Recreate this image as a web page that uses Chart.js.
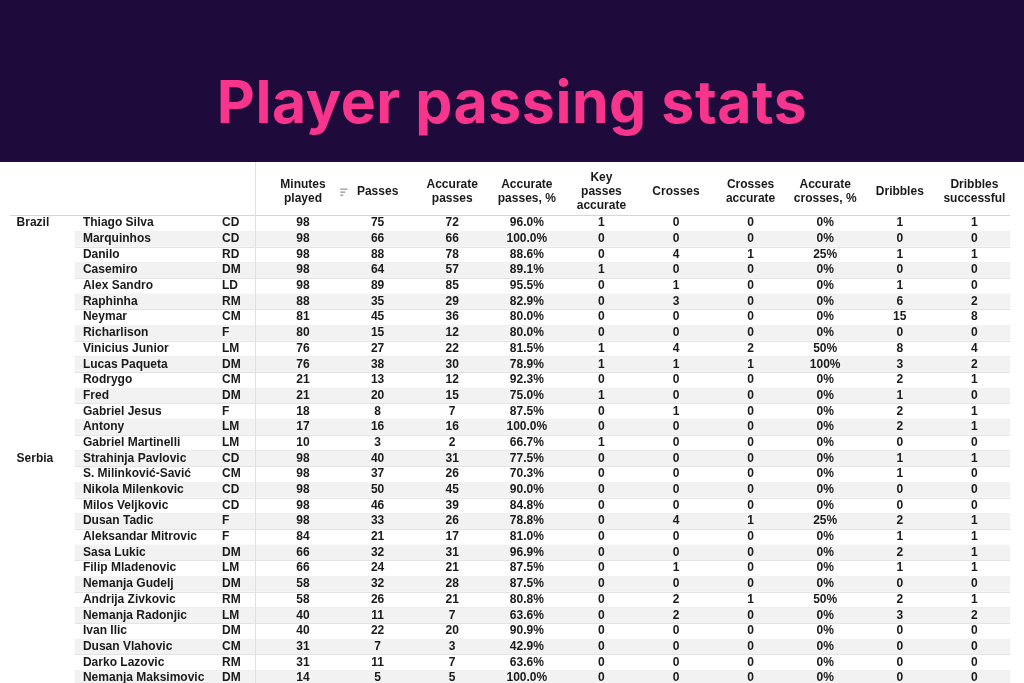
<!DOCTYPE html>
<html>
<head>
<meta charset="utf-8">
<script src="https://cdn.jsdelivr.net/npm/chart.js@4"></script>
<style>
  body { margin: 0; width: 1024px; height: 683px; overflow: hidden; background: #fff; }
  #head { height: 162px; background: #1e0b3b; text-align: center; }
  #head h1 { margin: 0; padding-top: 70px; font: 700 59px "Inter", "Lato", sans-serif; color: #f7358c; letter-spacing: 0.5px; line-height: 64px; }
  #wrap { position: relative; width: 1024px; height: 521px; }
</style>
</head>
<body>
<div id="head"><h1>Player passing stats</h1></div>
<div id="wrap"><canvas id="table"></canvas></div>
<script>
var headers = [["Minutes", "played"], ["Passes"], ["Accurate", "passes"], ["Accurate", "passes, %"],
  ["Key", "passes", "accurate"], ["Crosses"], ["Crosses", "accurate"], ["Accurate", "crosses, %"],
  ["Dribbles"], ["Dribbles", "successful"]];
var countries = ["Brazil", "", "", "", "", "", "", "", "", "", "", "", "", "", "",
  "Serbia", "", "", "", "", "", "", "", "", "", "", "", "", "", ""];
var players = ["Thiago Silva", "Marquinhos", "Danilo", "Casemiro", "Alex Sandro", "Raphinha", "Neymar",
  "Richarlison", "Vinicius Junior", "Lucas Paqueta", "Rodrygo", "Fred", "Gabriel Jesus", "Antony",
  "Gabriel Martinelli", "Strahinja Pavlovic", "S. Milinković-Savić", "Nikola Milenkovic", "Milos Veljkovic",
  "Dusan Tadic", "Aleksandar Mitrovic", "Sasa Lukic", "Filip Mladenovic", "Nemanja Gudelj", "Andrija Zivkovic",
  "Nemanja Radonjic", "Ivan Ilic", "Dusan Vlahovic", "Darko Lazovic", "Nemanja Maksimovic"];
var positions = ["CD", "CD", "RD", "DM", "LD", "RM", "CM", "F", "LM", "DM", "CM", "DM", "F", "LM", "LM",
  "CD", "CM", "CD", "CD", "F", "F", "DM", "LM", "DM", "RM", "LM", "DM", "CM", "RM", "DM"];
var minutes = [98, 98, 98, 98, 98, 88, 81, 80, 76, 76, 21, 21, 18, 17, 10, 98, 98, 98, 98, 98, 84, 66, 66, 58, 58, 40, 40, 31, 31, 14];
var passes = [75, 66, 88, 64, 89, 35, 45, 15, 27, 38, 13, 20, 8, 16, 3, 40, 37, 50, 46, 33, 21, 32, 24, 32, 26, 11, 22, 7, 11, 5];
var accPasses = [72, 66, 78, 57, 85, 29, 36, 12, 22, 30, 12, 15, 7, 16, 2, 31, 26, 45, 39, 26, 17, 31, 21, 28, 21, 7, 20, 3, 7, 5];
var accPassPct = ["96.0%", "100.0%", "88.6%", "89.1%", "95.5%", "82.9%", "80.0%", "80.0%", "81.5%", "78.9%",
  "92.3%", "75.0%", "87.5%", "100.0%", "66.7%", "77.5%", "70.3%", "90.0%", "84.8%", "78.8%", "81.0%", "96.9%",
  "87.5%", "87.5%", "80.8%", "63.6%", "90.9%", "42.9%", "63.6%", "100.0%"];
var keyPasses = [1, 0, 0, 1, 0, 0, 0, 0, 1, 1, 0, 1, 0, 0, 1, 0, 0, 0, 0, 0, 0, 0, 0, 0, 0, 0, 0, 0, 0, 0];
var crosses = [0, 0, 4, 0, 1, 3, 0, 0, 4, 1, 0, 0, 1, 0, 0, 0, 0, 0, 0, 4, 0, 0, 1, 0, 2, 2, 0, 0, 0, 0];
var accCrosses = [0, 0, 1, 0, 0, 0, 0, 0, 2, 1, 0, 0, 0, 0, 0, 0, 0, 0, 0, 1, 0, 0, 0, 0, 1, 0, 0, 0, 0, 0];
var accCrossPct = ["0%", "0%", "25%", "0%", "0%", "0%", "0%", "0%", "50%", "100%", "0%", "0%", "0%", "0%", "0%",
  "0%", "0%", "0%", "0%", "25%", "0%", "0%", "0%", "0%", "50%", "0%", "0%", "0%", "0%", "0%"];
var dribbles = [1, 0, 1, 0, 1, 6, 15, 0, 8, 3, 2, 1, 2, 2, 0, 1, 1, 0, 0, 2, 1, 2, 1, 0, 2, 3, 0, 0, 0, 0];
var dribblesOk = [1, 0, 1, 0, 0, 2, 8, 0, 4, 2, 1, 0, 1, 1, 0, 1, 0, 0, 0, 1, 1, 1, 1, 0, 1, 2, 0, 0, 0, 0];

var numCols = [minutes, passes, accPasses, accPassPct, keyPasses, crosses, accCrosses, accCrossPct, dribbles, dribblesOk];

// one invisible dataset per numeric column, x = column index (3..12), y = row index
var datasets = numCols.map(function (col, c) {
  return { data: col.map(function (v, r) { return { x: c + 3, y: r, label: String(v) }; }), pointRadius: 0 };
});
// header cells at row -2
datasets.push({ data: headers.map(function (h, c) { return { x: c + 3, y: -2, label: h }; }), pointRadius: 0 });

var font = 'bold 12px "Liberation Sans", Arial, sans-serif';

var tablePlugin = {
  id: 'tablePlugin',
  beforeDatasetsDraw: function (chart) {
    var ctx = chart.ctx, xs = chart.scales.x, ys = chart.scales.y;
    var rowH = Math.abs(ys.getPixelForValue(1) - ys.getPixelForValue(0));
    var x0 = xs.getPixelForValue(-0.06), x1 = xs.getPixelForValue(12.48);
    ctx.save();
    players.forEach(function (p, r) {
      var yc = ys.getPixelForValue(r);
      if (r % 2 === 1) {
        ctx.fillStyle = '#f2f2f2';
        ctx.fillRect(x0, yc - rowH / 2, x1 - x0, rowH);
      }
      ctx.strokeStyle = '#e4e4e4';
      ctx.lineWidth = 1;
      ctx.beginPath();
      ctx.moveTo(x0, Math.round(yc + rowH / 2) + 0.5);
      ctx.lineTo(x1, Math.round(yc + rowH / 2) + 0.5);
      ctx.stroke();
    });
    // header separator
    var yh = Math.round(ys.getPixelForValue(-0.5)) + 0.5;
    ctx.strokeStyle = '#d6d6d6';
    ctx.beginPath();
    ctx.moveTo(xs.getPixelForValue(-0.93), yh);
    ctx.lineTo(x1, yh);
    ctx.stroke();
    // vertical separator
    var xv = Math.round(xs.getPixelForValue(2.357)) + 0.5;
    ctx.strokeStyle = '#e0e0e0';
    ctx.beginPath();
    ctx.moveTo(xv, 0);
    ctx.lineTo(xv, chart.height);
    ctx.stroke();
    ctx.restore();
  },
  afterDatasetsDraw: function (chart) {
    var ctx = chart.ctx, xs = chart.scales.x, ys = chart.scales.y;
    ctx.save();
    ctx.font = font;
    ctx.fillStyle = '#1a1a1a';
    ctx.textBaseline = 'middle';
    // text columns
    ctx.textAlign = 'left';
    players.forEach(function (p, r) {
      var y = ys.getPixelForValue(r);
      ctx.fillText(countries[r], xs.getPixelForValue(-0.84), y);
      ctx.fillText(p, xs.getPixelForValue(0.05), y);
      ctx.fillText(positions[r], xs.getPixelForValue(1.914), y);
    });
    // numeric + header cells
    ctx.textAlign = 'center';
    chart.data.datasets.forEach(function (ds, i) {
      var meta = chart.getDatasetMeta(i);
      meta.data.forEach(function (pt, j) {
        var lab = ds.data[j].label;
        if (Array.isArray(lab)) {
          var lh = 14;
          lab.forEach(function (line, k) {
            ctx.fillText(line, pt.x, pt.y + (k - (lab.length - 1) / 2) * lh);
          });
        } else {
          ctx.fillText(lab, pt.x, pt.y);
        }
      });
    });
    // sort icon next to "Minutes played"
    var sx = xs.getPixelForValue(3.5), sy = ys.getPixelForValue(-2);
    ctx.strokeStyle = '#777';
    ctx.lineWidth = 1;
    [7, 5, 3].forEach(function (w, k) {
      ctx.beginPath();
      ctx.moveTo(sx, sy - 3 + k * 3 + 0.5);
      ctx.lineTo(sx + w, sy - 3 + k * 3 + 0.5);
      ctx.stroke();
    });
    ctx.restore();
  }
};

new Chart(document.getElementById('table'), {
  type: 'scatter',
  data: { datasets: datasets },
  options: {
    responsive: true,
    maintainAspectRatio: false,
    animation: false,
    layout: { padding: 0 },
    plugins: { legend: { display: false }, tooltip: { enabled: false } },
    scales: {
      x: { type: 'linear', display: false, min: -1.062, max: 12.665 },
      y: { type: 'linear', display: false, reverse: true, min: -3.888, max: 29.32 }
    }
  },
  plugins: [tablePlugin]
});
</script>
</body>
</html>
